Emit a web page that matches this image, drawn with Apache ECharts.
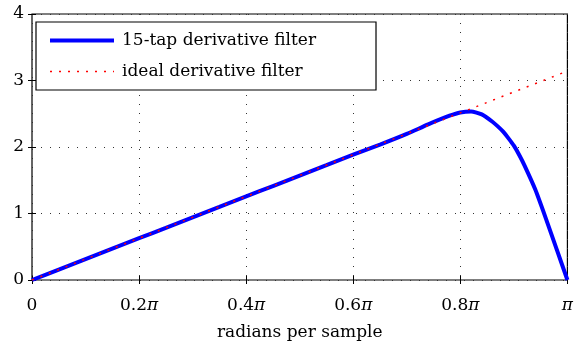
<!DOCTYPE html>
<html>
<head>
<meta charset="utf-8">
<script src="https://cdn.jsdelivr.net/npm/echarts@6/dist/echarts.min.js"></script>
<style>html,body{margin:0;padding:0;background:#fff}#c{width:576px;height:347px}</style>
</head>
<body>
<div id="c"></div>
<script>
// frequency in units of pi
const freqFIR = [0,0.05,0.1,0.15,0.2,0.25,0.3,0.35,0.4,0.45,0.5,0.55,0.6,0.65,0.7,0.74,0.78,0.8,0.82,0.84,0.86,0.87,0.88,0.89,0.9,0.91,0.92,0.94,0.96,0.98,1.0];
const magFIR  = [0,0.157,0.314,0.471,0.628,0.785,0.943,1.100,1.257,1.413,1.569,1.726,1.884,2.035,2.196,2.34,2.47,2.52,2.535,2.49,2.38,2.31,2.23,2.13,2.02,1.88,1.72,1.36,0.92,0.46,0];
const freqIdeal = [0, 1];
const magIdeal  = [0, 3.1416];
const xTickLabels = {0:'0', 0.2:'0.2{i|π}', 0.4:'0.4{i|π}', 0.6:'0.6{i|π}', 0.8:'0.8{i|π}', 1:'{i|π}'};
const yTicks = [0,1,2,3,4];
const seriesNames = ['15-tap derivative filter', 'ideal derivative filter'];

const font = 'DejaVu Serif';
const fs = 17;
const chart = echarts.init(document.getElementById('c'), null, {renderer:'canvas'});
const gridLine = {show:true, lineStyle:{color:'#333', type:[1,8], width:1}};
const baseX = {type:'value', min:0, max:1, interval:0.2, axisLine:{show:false}};
const baseY = {type:'value', min:0, max:4, interval:1, axisLine:{show:false}};
chart.setOption({
  animation:false,
  grid:{left:32, right:7, top:14, bottom:67, show:true, borderColor:'#000', borderWidth:1.2, backgroundColor:'transparent'},
  xAxis:[
    Object.assign({}, baseX, {position:'bottom',
      axisTick:{inside:true, length:4, lineStyle:{color:'#000'}},
      splitLine:gridLine,
      axisLabel:{margin:17, color:'#000', fontFamily:font, fontSize:fs,
        rich:{i:{fontFamily:font, fontStyle:'italic', fontSize:fs, color:'#000'}},
        formatter:v=>xTickLabels[Math.round(v*10)/10] ?? ''},
      name:'radians per sample', nameLocation:'middle', nameGap:44,
      nameTextStyle:{color:'#000', fontFamily:font, fontSize:fs}}),
    Object.assign({}, baseX, {position:'top',
      axisTick:{inside:true, length:4, lineStyle:{color:'#000'}},
      splitLine:{show:false}, axisLabel:{show:false}})
  ],
  yAxis:[
    Object.assign({}, baseY, {position:'left',
      axisTick:{inside:true, length:4, lineStyle:{color:'#000'}},
      splitLine:gridLine,
      axisLabel:{margin:8, color:'#000', fontFamily:font, fontSize:fs,
        formatter:v=>yTicks.includes(v)?String(v):''}}),
    Object.assign({}, baseY, {position:'right',
      axisTick:{inside:true, length:4, lineStyle:{color:'#000'}},
      splitLine:{show:false}, axisLabel:{show:false}})
  ],
  legend:{
    orient:'vertical', left:36, top:22,
    padding:[10,60,10,12], itemGap:14, itemWidth:64, itemHeight:16,
    borderColor:'#000', borderWidth:1.2, backgroundColor:'#fff',
    itemStyle:{opacity:0},
    textStyle:{color:'#000', fontFamily:font, fontSize:fs, lineHeight:16, padding:[0,0,0,3]},
    data:[
      {name:seriesNames[0], lineStyle:{width:4, color:'#0000ff'}},
      {name:seriesNames[1], lineStyle:{width:1.6, color:'#ff0000', type:[2,7]}}
    ]
  },
  series:[
    {name:seriesNames[0], type:'line', xAxisIndex:0, yAxisIndex:0, showSymbol:false, symbol:'none', smooth:0.2,
      data:freqFIR.map((f,i)=>[f, magFIR[i]]),
      lineStyle:{color:'#0000ff', width:4}, itemStyle:{color:'#0000ff'}, z:2},
    {name:seriesNames[1], type:'line', xAxisIndex:0, yAxisIndex:0, showSymbol:false, symbol:'none',
      data:freqIdeal.map((f,i)=>[f, magIdeal[i]]),
      lineStyle:{color:'#ff0000', width:1.5, type:[2,7]}, itemStyle:{color:'#ff0000'}, z:3}
  ]
});
</script>
</body>
</html>
